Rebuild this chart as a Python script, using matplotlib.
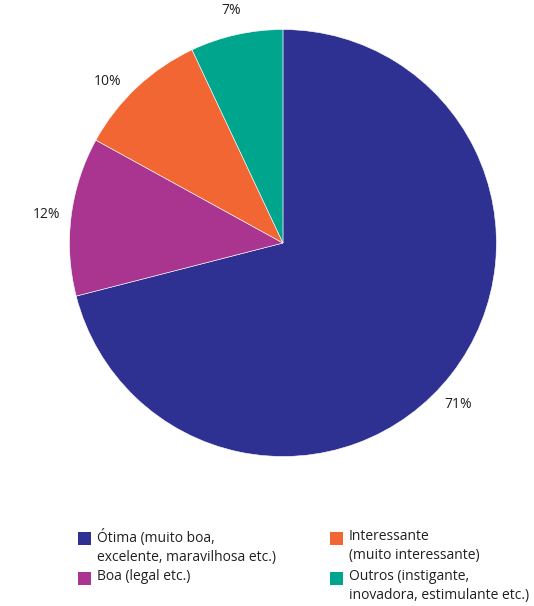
import numpy as np
import matplotlib.pyplot as plt
from matplotlib.patches import Rectangle

# Categories, values and colours
categorias = ['Ótima (muito boa,\nexcelente, maravilhosa etc.)',
              'Boa (legal etc.)',
              'Interessante\n(muito interessante)',
              'Outros (instigante,\ninovadora, estimulante etc.)']
valores = [71, 12, 10, 7]
cores = ['#2E3192', '#A93591', '#F26633', '#00A58D']

plt.rcParams['font.family'] = ['Open Sans', 'DejaVu Sans']
texto_cor = '#231F20'

fig = plt.figure(figsize=(5.34, 6.06), dpi=100)
ax = fig.add_axes([0.1301, 0.2467, 0.7996, 0.7046])

wedges, _ = ax.pie(valores, colors=cores, startangle=90, counterclock=False,
                   wedgeprops=dict(edgecolor='white', linewidth=0.4))
ax.set_xlim(-1, 1)
ax.set_ylim(-1, 1)
ax.set_aspect('equal')

# Percentage labels just outside each wedge, nudged a little along the rim
ajuste = [-4.8, 0.3, 4.2, 0.0]
for w, v, d in zip(wedges, valores, ajuste):
    ang = np.deg2rad((w.theta1 + w.theta2) / 2 + d)
    ax.text(1.115 * np.cos(ang), 1.115 * np.sin(ang), f'{v}%',
            ha='center', va='center', fontsize=10, color=texto_cor)

# Legend drawn by hand in two columns, square aligned to the first line
W, H = 534, 606
posicoes = [(78, 532), (78, 572), (330, 532), (330, 572)]
for (x, y), cor, texto in zip(posicoes, cores, categorias):
    fig.add_artist(Rectangle((x / W, 1 - (y + 13) / H), 13 / W, 13 / H,
                             transform=fig.transFigure, facecolor=cor,
                             edgecolor='none'))
    fig.text((x + 19) / W, 1 - (y - 3) / H, texto, fontsize=10,
             color=texto_cor, va='top', ha='left', linespacing=1.4)

fig.savefig('out.png', dpi=100)
